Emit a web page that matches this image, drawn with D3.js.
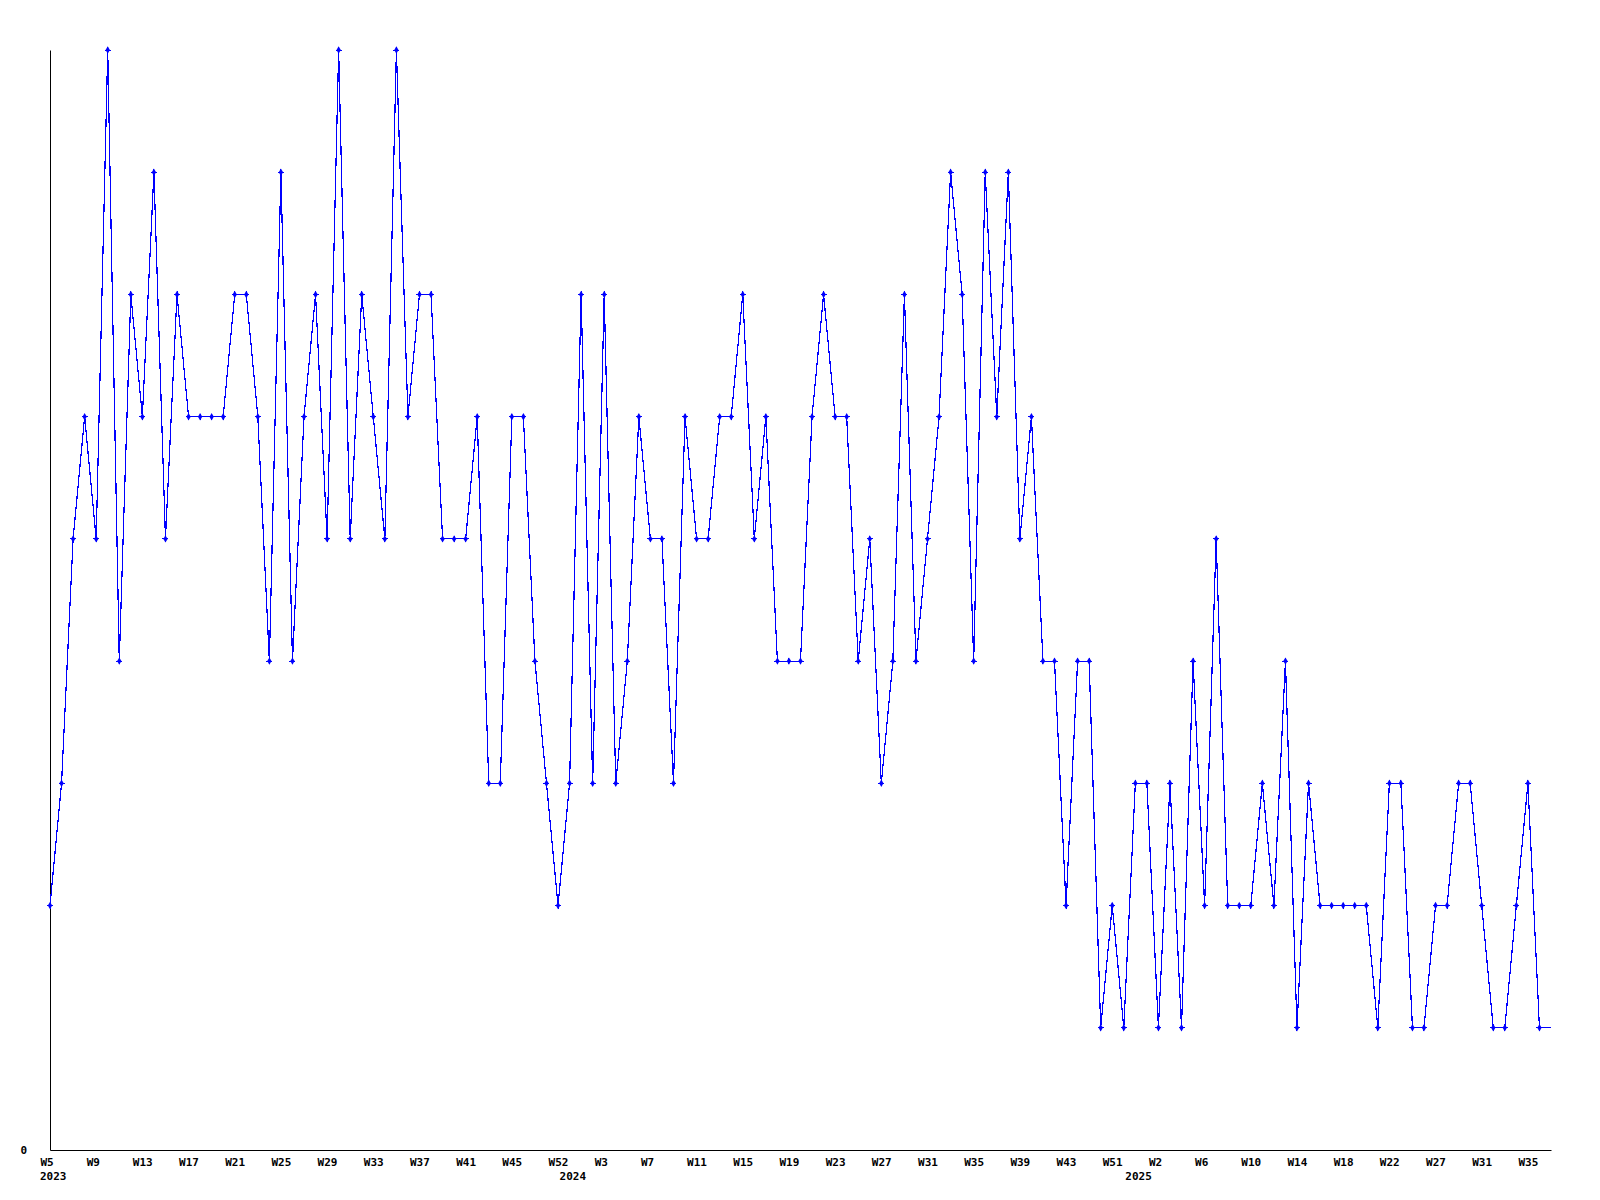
<!DOCTYPE html>
<html>
<head>
<meta charset="utf-8">
<script src="https://cdn.jsdelivr.net/npm/d3@7"></script>
<style>
  body { margin: 0; background: #fff; }
  text { font-family: "DejaVu Sans Mono", monospace; font-size: 11px; font-weight: bold; fill: #000; }
</style>
</head>
<body>
<div id="chart"></div>
<script>
// weekly values, 2023 W5 .. 2025 (last one is the running week, drawn without marker)
const values2023 = [2, 3, 5, 6, 5, 9, 4, 7, 6, 8, 5, 7, 6, 6, 6, 6, 7, 7, 6, 4,
  8, 4, 6, 7, 5, 9, 5, 7, 6, 5, 9, 6, 7, 7, 5, 5, 5, 6, 3, 3,
  6, 6, 4, 3, 2];
const values2024 = [3, 7, 3, 7, 3, 4, 6, 5, 5, 3, 6, 5, 5, 6, 6, 7, 5, 6, 4, 4,
  4, 6, 7, 6, 6, 4, 5, 3, 4, 7, 4, 5, 6, 8, 7, 4, 8, 6, 8, 5,
  6, 4, 4, 2, 4, 4, 1, 2, 1];
const values2025 = [3, 3, 1, 3, 1, 4, 2, 5, 2, 2, 2, 3, 2, 4, 1, 3, 2, 2, 2, 2,
  2, 1, 3, 3, 1, 1, 2, 2, 3, 3, 2, 1, 1, 2, 3, 1, 1];

const values = values2023.concat(values2024, values2025);

// x labels: one every 4 points
const tickIndex = d3.range(0, 129, 4);
const tickLabels = ["W5", "W9", "W13", "W17", "W21", "W25", "W29", "W33", "W37", "W41", "W45",
  "W52", "W3", "W7", "W11", "W15", "W19", "W23", "W27", "W31", "W35", "W39", "W43",
  "W51", "W2", "W6", "W10", "W14", "W18", "W22", "W27", "W31", "W35"];
const yearLabels = ["2023", "2024", "2025"];
const yearIndex = [0, values2023.length, values2023.length + values2024.length];

const width = 1600, height = 1200;
const margin = { top: 50, right: 49, bottom: 50, left: 50 };

const svg = d3.select("#chart").append("svg")
  .attr("width", width)
  .attr("height", height);

const x = d3.scaleLinear()
  .domain([0, values.length - 1])
  .range([margin.left, width - margin.right]);

const y = d3.scaleLinear()
  .domain([0, 9])
  .range([height - margin.bottom, margin.top]);

// y axis, only the zero is labelled
const yAxis = svg.append("g")
  .attr("transform", "translate(" + margin.left + ",0)")
  .call(d3.axisLeft(y).tickValues([0]).tickSize(0).tickSizeOuter(0).tickPadding(23));
yAxis.select(".domain").attr("stroke", "#000");
yAxis.selectAll("text").style("font-size", "11px").style("font-family", "DejaVu Sans Mono").attr("dy", "0.35em");

// x axis with week labels
const xAxis = svg.append("g")
  .attr("transform", "translate(0," + (height - margin.bottom) + ")")
  .call(d3.axisBottom(x)
    .tickValues(tickIndex)
    .tickFormat((d, i) => tickLabels[i])
    .tickSize(0)
    .tickSizeOuter(0)
    .tickPadding(8));
xAxis.select(".domain").attr("stroke", "#000");
xAxis.selectAll("text")
  .style("font-size", "11px")
  .style("font-family", "DejaVu Sans Mono")
  .attr("text-anchor", "start")
  .attr("x", -10);

// year labels under the first week of each year
svg.append("g").selectAll("text")
  .data(yearLabels)
  .enter().append("text")
  .attr("x", (d, i) => x(yearIndex[i]) - 10)
  .attr("y", height - margin.bottom + 30)
  .text(d => d);

// the line
const line = d3.line()
  .x((d, i) => x(i))
  .y(d => y(d));

svg.append("path")
  .datum(values)
  .attr("fill", "none")
  .attr("stroke", "#0000ff")
  .attr("stroke-width", 1.2)
  .style("shape-rendering", "crispEdges")
  .attr("d", line);

// point markers (not on the running week)
const marks = svg.append("g").selectAll(".mark")
  .data(values.slice(0, values.length - 1))
  .enter().append("g")
  .attr("class", "mark")
  .attr("transform", (d, i) => "translate(" + x(i) + "," + y(d) + ")");

marks.append("path")
  .attr("d", "M-3,0H3M0,-3V3")
  .attr("stroke", "#0000ff")
  .attr("stroke-width", 1)
  .style("shape-rendering", "crispEdges");

marks.append("path")
  .attr("d", d3.symbol(d3.symbolDiamond, 16))
  .attr("fill", "#0000ff");
</script>
</body>
</html>
